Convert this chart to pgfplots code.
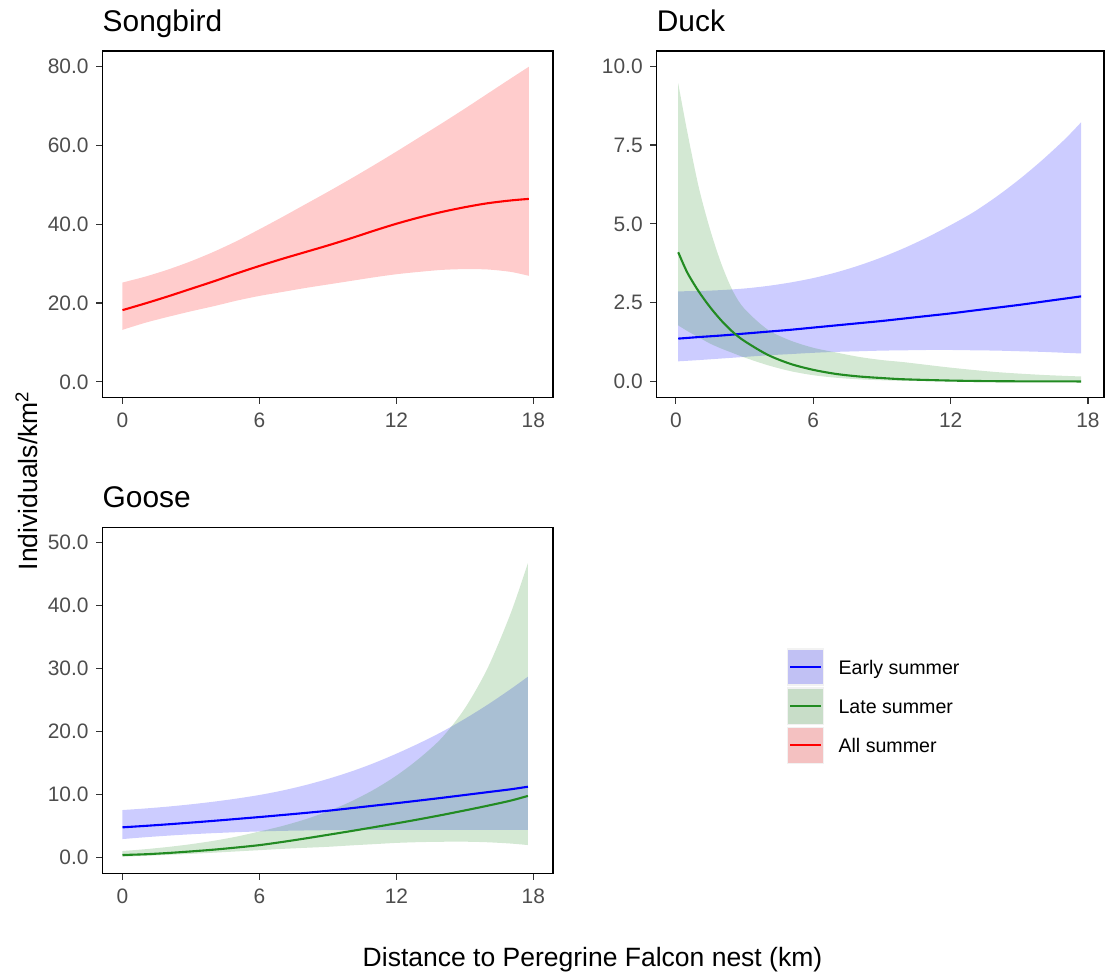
\documentclass[border=0pt]{standalone}
\usepackage{pgfplots}
\pgfplotsset{compat=1.18}
\usepackage{pgfplotstable}
\usepgfplotslibrary{fillbetween}
\usetikzlibrary{calc}
\usepackage{fontspec}
\setmainfont{Liberation Sans}

\definecolor{gray20}{RGB}{51,51,51}
\definecolor{gray30}{RGB}{77,77,77}
\definecolor{grey95}{RGB}{242,242,242}
\definecolor{earlyc}{RGB}{0,0,255}
\definecolor{latec}{RGB}{34,139,34}
\definecolor{allc}{RGB}{255,0,0}

% columns: distance, fitted density, lower and upper confidence bound
\pgfplotstableread{
x fit lo hi
0 18.2 13.2 25.2
1 19.9 15.0 26.7
2 21.7 16.5 28.5
3 23.6 17.9 30.6
4 25.5 19.2 33.0
5 27.5 20.6 35.7
6 29.4 21.8 38.7
7 31.2 22.8 41.8
8 32.9 23.8 45.0
9 34.6 24.7 48.2
10 36.4 25.6 51.5
11 38.3 26.5 54.9
12 40.1 27.3 58.4
13 41.7 27.9 62.0
14 43.1 28.4 65.6
15 44.3 28.6 69.3
16 45.3 28.5 73.1
17 46.0 27.9 76.9
17.8 46.4 26.9 79.9
}\songall

\pgfplotstableread{
x fit lo hi
0.1 1.36 0.64 2.86
1 1.41 0.68 2.87
2 1.46 0.73 2.90
3 1.52 0.78 2.95
4 1.58 0.83 3.03
5 1.64 0.87 3.14
6 1.71 0.91 3.28
7 1.78 0.94 3.46
8 1.85 0.96 3.68
9 1.92 0.98 3.94
10 2.00 0.99 4.24
11 2.08 1.00 4.58
12 2.16 1.00 4.96
13 2.25 0.99 5.37
14 2.34 0.98 5.86
15 2.43 0.96 6.41
16 2.53 0.94 7.02
17 2.63 0.91 7.69
17.7 2.70 0.89 8.22
}\duckearly

\pgfplotstableread{
x fit lo hi
0.1 4.10 1.78 9.45
0.5 3.45 1.60 7.90
1 2.85 1.40 6.15
1.5 2.35 1.20 4.80
2 1.92 1.04 3.70
2.5 1.56 0.90 2.85
3 1.28 0.76 2.30
4 0.85 0.52 1.65
5 0.56 0.33 1.30
6 0.37 0.20 1.07
7 0.24 0.12 0.92
8 0.16 0.07 0.78
9 0.11 0.04 0.68
10 0.07 0.02 0.61
12 0.03 0.01 0.44
14 0.01 0.003 0.30
16 0.005 0.001 0.21
17.7 0.002 0.001 0.16
}\ducklate

\pgfplotstableread{
x fit lo hi
0 4.82 2.96 7.56
1 5.05 3.25 7.81
2 5.30 3.50 8.11
3 5.57 3.72 8.47
4 5.85 3.90 8.89
5 6.15 4.05 9.38
6 6.45 4.17 9.95
7 6.77 4.26 10.65
8 7.10 4.32 11.50
9 7.45 4.37 12.50
10 7.85 4.40 13.65
11 8.25 4.41 14.98
12 8.65 4.42 16.50
13 9.07 4.42 18.16
14 9.50 4.42 19.98
15 9.95 4.42 22.03
16 10.40 4.41 24.28
17 10.85 4.40 26.73
17.76 11.26 4.40 28.71
}\gooseearly

\pgfplotstableread{
x fit lo hi
0 0.43 0.16 1.06
1 0.55 0.30 1.35
2 0.75 0.45 1.71
3 1.00 0.62 2.15
4 1.28 0.80 2.69
5 1.62 1.00 3.35
6 2.00 1.20 4.16
7 2.50 1.40 5.03
8 3.05 1.57 6.08
9 3.63 1.73 7.36
10 4.22 1.95 8.90
11 4.83 2.15 10.77
12 5.45 2.35 13.02
13 6.10 2.47 15.75
14 6.78 2.53 19.05
15 7.50 2.54 23.70
16 8.25 2.45 30.10
17 9.05 2.25 38.70
17.76 9.80 2.01 46.70
}\gooselate

\newcommand{\ticksize}{\fontsize{21}{21}\selectfont}
\newcommand{\titlesize}{\fontsize{30}{30}\selectfont}
\newcommand{\labsize}{\fontsize{26.6}{26.6}\selectfont}

\pgfplotsset{
  panel/.style={
    scale only axis,
    axis line style={black, line width=1.1bp},
    tick style={gray20, line width=1.1bp},
    major tick length=6.5bp,
    tick align=outside,
    xtick pos=bottom, ytick pos=left,
    xtick={0,6,12,18},
    tick label style={color=gray30, font=\ticksize},
    xticklabel style={yshift=-6bp},
    /pgf/number format/assume math mode=true,
    yticklabel style={xshift=-4bp, /pgf/number format/fixed, /pgf/number format/fixed zerofill, /pgf/number format/precision=1},
    title style={at={(0,1)}, anchor=base west, yshift=14bp, font=\titlesize, inner sep=0pt},
  },
  ribbon/.style={draw=none, fill=#1, fill opacity=0.2},
  fitline/.style={color=#1, line width=2.1bp, smooth},
}

% one ribbon from a table (upper and lower bound columns)
\newcommand{\band}[3]{%
  \addplot[draw=none, smooth, name path=#2u] table[x=x, y=hi] {#1};
  \addplot[draw=none, smooth, name path=#2l] table[x=x, y=lo] {#1};
  \addplot[ribbon=#3] fill between[of=#2u and #2l];
}

% legend key: background, translucent ribbon, line, text
\newcommand{\legkey}[3]{%
  \fill[grey95] (786.7bp,#1) rectangle ++(37.5bp,-37.5bp);
  \fill[#2, fill opacity=0.2] ($(786.7bp,#1)+(1.3bp,-1.3bp)$) rectangle ++(34.9bp,-34.9bp);
  \draw[#2, line width=2.1bp] ($(786.7bp,#1)+(3.3bp,-18.75bp)$) -- ++(31bp,0);
  \node[anchor=base west, inner sep=0pt, font=\fontsize{19.7}{19.7}\selectfont]
    at ($(838.3bp,#1)+(0,-25.8bp)$) {#3};
}

\begin{document}
\begin{tikzpicture}
% page frame
\path (0,0) rectangle (1106bp,974bp);

% Songbird
\begin{axis}[panel, at={(102.5bp,576.7bp)}, anchor=south west,
  width=450.5bp, height=346.3bp,
  xmin=-0.876, xmax=18.86, ymin=-3.9, ymax=83.9,
  ytick={0,20,40,60,80}, title={Songbird}]
  \band{\songall}{sa}{allc}
  \addplot[fitline=allc] table[x=x, y=fit] {\songall};
\end{axis}

% Duck
\begin{axis}[panel, at={(656.7bp,576.7bp)}, anchor=south west,
  width=447.3bp, height=346.3bp,
  xmin=-0.84, xmax=18.70, ymin=-0.50, ymax=10.48,
  ytick={0,2.5,5,7.5,10}, title={Duck}]
  \band{\duckearly}{de}{earlyc}
  \band{\ducklate}{dl}{latec}
  \addplot[fitline=earlyc] table[x=x, y=fit] {\duckearly};
  \addplot[fitline=latec] table[x=x, y=fit] {\ducklate};
\end{axis}

% Goose
\begin{axis}[panel, at={(102.5bp,100.7bp)}, anchor=south west,
  width=450.5bp, height=346bp,
  xmin=-0.876, xmax=18.86, ymin=-2.47, ymax=52.4,
  ytick={0,10,20,30,40,50}, title={Goose}]
  \band{\gooseearly}{ge}{earlyc}
  \band{\gooselate}{gl}{latec}
  \addplot[fitline=earlyc] table[x=x, y=fit] {\gooseearly};
  \addplot[fitline=latec] table[x=x, y=fit] {\gooselate};
\end{axis}

% shared axis titles
\node[anchor=base, font=\labsize, inner sep=0pt] at (592.5bp,8bp)
  {Distance to Peregrine Falcon nest (km)};
\node[anchor=base, rotate=90, font=\labsize, inner sep=0pt] at (37.3bp,493.2bp)
  {Individuals/km\textsuperscript{2}};

% legend
\legkey{325.7bp}{earlyc}{Early summer}
\legkey{286.5bp}{latec}{Late summer}
\legkey{247.3bp}{allc}{All summer}
\end{tikzpicture}
\end{document}
